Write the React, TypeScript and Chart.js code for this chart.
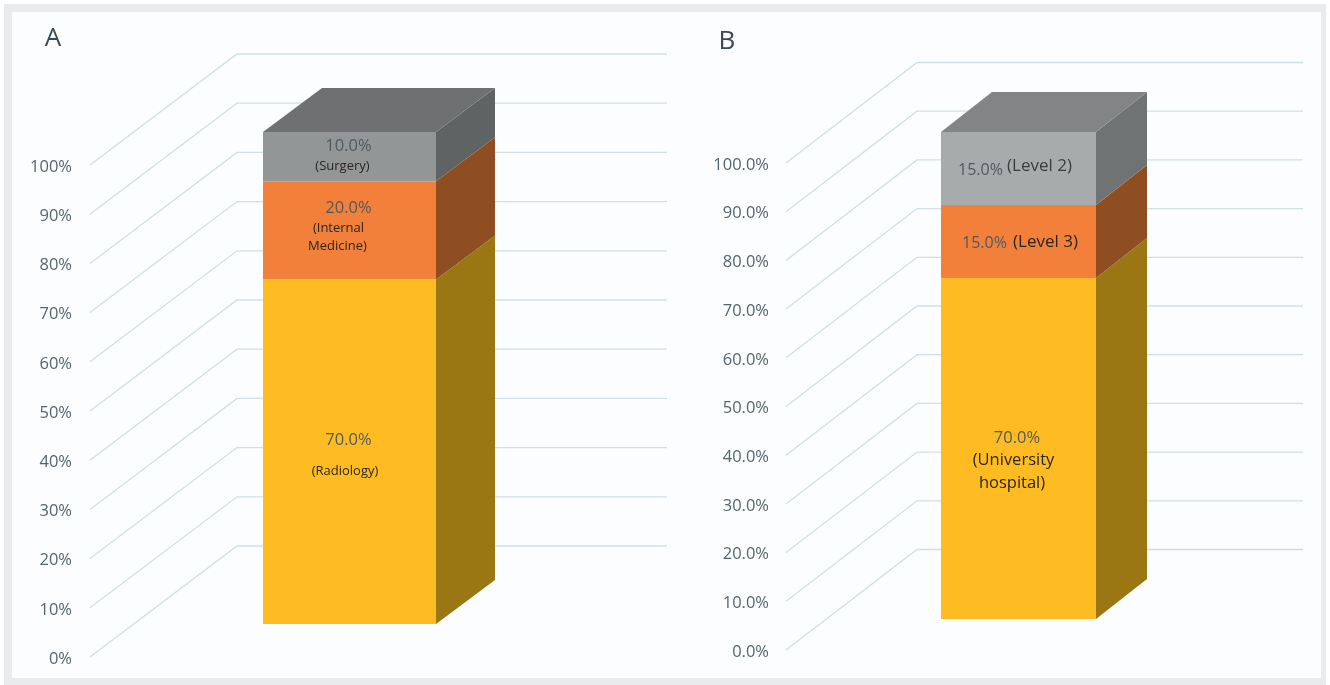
import React, { useEffect, useRef } from "react";
import { Chart, registerables } from "chart.js";

Chart.register(...registerables);

const FONT = '"Open Sans", "Noto Sans", sans-serif';

const categories = ["Share"];
const seriesNames = ["Base", "Middle", "Upper"];
const valuesA = [70, 20, 10];
const valuesB = [70, 15, 15];
const tickLabelsA = ["0%", "10%", "20%", "30%", "40%", "50%", "60%", "70%", "80%", "90%", "100%"];
const tickLabelsB = ["0.0%", "10.0%", "20.0%", "30.0%", "40.0%", "50.0%", "60.0%", "70.0%", "80.0%", "90.0%", "100.0%"];

const frontColors = ["#FFBC22", "#F3803A", "#939697"];
const frontColorsB = ["#FFBC22", "#F3803A", "#A8ABAC"];
const sideColors = ["#9A7712", "#8F4E22", "#606364"];
const sideColorsB = ["#9A7712", "#8F4E22", "#707374"];

type Note = { text: string; dx: number; dy: number; size: number; color: string };

const PCT = "#4f5a60";
const NAME = "#2b2620";

const notesA: Note[][] = [
  [
    { text: "70.0%", dx: -1, dy: -12, size: 16.5, color: PCT },
    { text: "(Radiology)", dx: -4.5, dy: 19, size: 13, color: NAME },
  ],
  [
    { text: "20.0%", dx: -1, dy: -22.5, size: 16.5, color: PCT },
    { text: "(Internal", dx: -11, dy: -2.5, size: 13, color: NAME },
    { text: "Medicine)", dx: -12, dy: 15.5, size: 13, color: NAME },
  ],
  [
    { text: "10.0%", dx: -1, dy: -10.5, size: 16.5, color: PCT },
    { text: "(Surgery)", dx: -7, dy: 9.5, size: 13, color: NAME },
  ],
];

const notesB: Note[][] = [
  [
    { text: "70.0%", dx: -1.5, dy: -10.5, size: 16.5, color: PCT },
    { text: "(University", dx: -5, dy: 11.5, size: 16.5, color: NAME },
    { text: "hospital)", dx: -6.5, dy: 34.5, size: 16.5, color: NAME },
  ],
  [
    { text: "15.0%", dx: -34, dy: 1.5, size: 16, color: PCT },
    { text: "(Level 3)", dx: 27, dy: 0.5, size: 17, color: NAME },
  ],
  [
    { text: "15.0%", dx: -38, dy: 1.5, size: 16, color: PCT },
    { text: "(Level 2)", dx: 21, dy: -2.5, size: 17, color: "#3c3c3c" },
  ],
];

type Panel = {
  title: string;
  titleX: number;
  titleY: number;
  canvasLeft: number;
  canvasWidth: number;
  axisWidth: number;
  tickPad: number;
  tickShift: number;
  padTop: number;
  padBottom: number;
  padRight: number;
  gridEnd: number;
  wallDx: number;
  wallDy: number;
  barLift: number;
  depthX: number;
  depthY: number;
  values: number[];
  tickLabels: string[];
  front: string[];
  side: string[];
  top: string;
  notes: Note[][];
};

const panelA: Panel = {
  title: "A",
  titleX: 53,
  titleY: 39,
  canvasLeft: 0,
  canvasWidth: 680,
  axisWidth: 90,
  tickPad: 18,
  tickShift: 2,
  padTop: 165,
  padBottom: 28,
  padRight: 71,
  gridEnd: 667,
  wallDx: 147,
  wallDy: -111,
  barLift: -33,
  depthX: 59,
  depthY: -44,
  values: valuesA,
  tickLabels: tickLabelsA,
  front: frontColors,
  side: sideColors,
  top: "#6E7071",
  notes: notesA,
};

const panelB: Panel = {
  title: "B",
  titleX: 47,
  titleY: 42,
  canvasLeft: 680,
  canvasWidth: 650,
  axisWidth: 106,
  tickPad: 17,
  tickShift: 2,
  padTop: 163,
  padBottom: 35,
  padRight: 79,
  gridEnd: 623,
  wallDx: 131,
  wallDy: -100.5,
  barLift: -31,
  depthX: 51,
  depthY: -40,
  values: valuesB,
  tickLabels: tickLabelsB,
  front: frontColorsB,
  side: sideColorsB,
  top: "#828485",
  notes: notesB,
};

function makePlugin(p: Panel) {
  return {
    id: "box3d",
    beforeDraw(chart: any) {
      // Axis labels sit slightly lower than their gridline starts.
      chart.ctx.save();
      chart.ctx.translate(0, p.tickShift);
    },
    beforeDatasetsDraw(chart: any) {
      const { ctx, chartArea, scales } = chart;
      ctx.restore();
      const y = scales.y;
      ctx.save();
      ctx.strokeStyle = "#cfdfe6";
      ctx.lineWidth = 1.3;
      y.ticks.forEach((t: any) => {
        const py = y.getPixelForValue(t.value);
        ctx.beginPath();
        ctx.moveTo(chartArea.left, py);
        ctx.lineTo(chartArea.left + p.wallDx, py + p.wallDy);
        ctx.lineTo(p.gridEnd, py + p.wallDy);
        ctx.stroke();
      });
      ctx.restore();

      ctx.save();
      ctx.translate(0, p.barLift);
      const count = chart.data.datasets.length;
      for (let i = 0; i < count; i++) {
        const bar = chart.getDatasetMeta(i).data[0];
        const right = bar.x + bar.width / 2;
        const left = bar.x - bar.width / 2;
        ctx.fillStyle = p.side[i];
        ctx.beginPath();
        ctx.moveTo(right, bar.y);
        ctx.lineTo(right + p.depthX, bar.y + p.depthY);
        ctx.lineTo(right + p.depthX, bar.base + p.depthY);
        ctx.lineTo(right, bar.base);
        ctx.closePath();
        ctx.fill();
        if (i === count - 1) {
          ctx.fillStyle = p.top;
          ctx.beginPath();
          ctx.moveTo(left, bar.y);
          ctx.lineTo(left + p.depthX, bar.y + p.depthY);
          ctx.lineTo(right + p.depthX, bar.y + p.depthY);
          ctx.lineTo(right, bar.y);
          ctx.closePath();
          ctx.fill();
        }
      }
    },
    afterDatasetsDraw(chart: any) {
      const { ctx } = chart;
      ctx.restore();
      ctx.save();
      ctx.textAlign = "center";
      ctx.textBaseline = "middle";
      p.notes.forEach((list, i) => {
        const bar = chart.getDatasetMeta(i).data[0];
        const cx = bar.x;
        const cy = (bar.y + bar.base) / 2 + p.barLift;
        list.forEach((n) => {
          ctx.font = `${n.size}px ${FONT}`;
          ctx.fillStyle = n.color;
          ctx.fillText(n.text, cx + n.dx, cy + n.dy);
        });
      });
      ctx.font = `26px ${FONT}`;
      ctx.fillStyle = "#3a4a53";
      ctx.fillText(p.title, p.titleX, p.titleY);
      ctx.restore();
    },
  };
}

function PanelChart({ panel }: { panel: Panel }) {
  const ref = useRef<HTMLCanvasElement | null>(null);
  useEffect(() => {
    if (!ref.current) return;
    const chart = new Chart(ref.current, {
      type: "bar",
      data: {
        labels: categories,
        datasets: panel.values.map((v, i) => ({
          label: seriesNames[i],
          data: [v],
          backgroundColor: panel.front[i],
          borderWidth: 0,
          barPercentage: 1 / 3,
          categoryPercentage: 1,
          clip: false as any,
        })),
      },
      options: {
        animation: false,
        responsive: false,
        devicePixelRatio: 1,
        layout: {
          padding: { left: 0, top: panel.padTop, bottom: panel.padBottom, right: panel.padRight },
        },
        plugins: { legend: { display: false }, tooltip: { enabled: false }, title: { display: false } },
        scales: {
          x: { stacked: true, display: false },
          y: {
            stacked: true,
            min: 0,
            max: 100,
            afterFit(scale: any) {
              scale.width = panel.axisWidth;
            },
            border: { display: false },
            grid: { display: false },
            ticks: {
              stepSize: 10,
              autoSkip: false,
              padding: panel.tickPad - 8,
              color: "#55646d",
              font: { family: FONT, size: 16.5 },
              callback: (v: any) => panel.tickLabels[Math.round(Number(v) / 10)],
            },
          },
        },
      },
      plugins: [makePlugin(panel)],
    } as any);
    return () => chart.destroy();
  }, [panel]);
  return (
    <canvas
      ref={ref}
      width={panel.canvasWidth}
      height={685}
      style={{
        position: "absolute",
        left: panel.canvasLeft,
        top: 0,
        width: panel.canvasWidth,
        height: 685,
        filter: "blur(0.45px)",
      }}
    />
  );
}

export default function App() {
  return (
    <div style={{ position: "absolute", left: 0, top: 0, width: 1330, height: 685, overflow: "hidden", background: "#ffffff" }}>
      <div style={{ position: "absolute", left: 4, top: 4, width: 1322, height: 681, background: "#e9ebec" }} />
      <div style={{ position: "absolute", left: 12, top: 12, width: 1309, height: 666, background: "#fcfdfe" }} />
      <PanelChart panel={panelA} />
      <PanelChart panel={panelB} />
    </div>
  );
}
